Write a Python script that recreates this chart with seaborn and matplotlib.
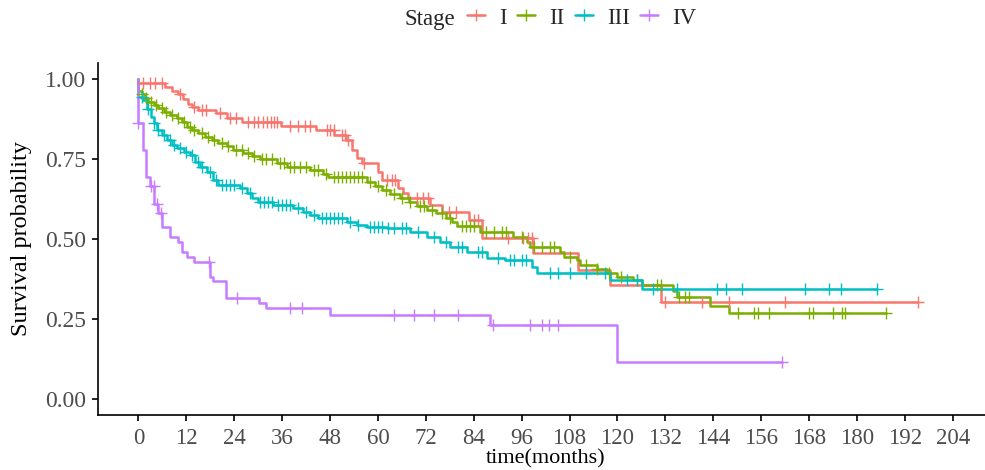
import numpy as np
import pandas as pd
import matplotlib
matplotlib.use("Agg")
import matplotlib.pyplot as plt
from matplotlib.lines import Line2D
import seaborn as sns

# Kaplan-Meier estimates by stage: event times (months) and survival after each step
stages = ["I", "II", "III", "IV"]
colors = ["#F8766D", "#7CAE00", "#00BFC4", "#C77CFF"]

stage1_times = [0, 6.7, 8.4, 9.8, 11.1, 12.5, 13.4, 14.8, 19.5, 22.1, 25.9, 35.8, 44.5,
                49.0, 52.0, 53.5, 54.7, 56.0, 60.1, 61.0, 65.0, 66.2, 67.5, 73.1, 76.0,
                82.9, 86.0, 98.8, 110.2, 118.2, 130.9]
stage1_surv = [0.988, 0.976, 0.963, 0.952, 0.936, 0.922, 0.913, 0.903, 0.893, 0.877, 0.866,
               0.853, 0.840, 0.825, 0.810, 0.778, 0.752, 0.736, 0.710, 0.684, 0.660, 0.643,
               0.627, 0.606, 0.585, 0.559, 0.502, 0.455, 0.403, 0.356, 0.304]
stage1_censor = [1.1, 2.9, 4.2, 5.9, 10.5, 13.8, 16.0, 17.0, 20.5, 23.0, 24.5, 27.5, 29.0,
                 30.0, 31.3, 32.2, 33.1, 34.0, 34.7, 38.0, 40.1, 41.8, 43.0, 47.2, 48.0,
                 48.9, 51.0, 51.8, 52.4, 56.5, 62.2, 63.5, 64.3, 69.7, 71.4, 72.6, 77.7,
                 79.5, 84.0, 85.0, 92.7, 96.4, 97.7, 98.5, 131.9, 141.1, 148.0, 162.0, 195.4]

stage2_times = [0, 0.85, 1.7, 2.5, 3.8, 5.0, 6.3, 7.9, 9.6, 10.9, 12.1, 13.4, 15.0, 16.7,
                18.4, 20.0, 22.1, 23.8, 26.3, 28.4, 30.5, 34.7, 37.2, 43.0, 46.3, 47.6,
                57.2, 59.3, 61.0, 63.0, 65.6, 67.7, 69.7, 72.2, 74.5, 77.0, 78.5, 79.8,
                85.6, 93.9, 97.3, 98.1, 105.6, 106.5, 109.8, 110.6, 114.8, 117.3, 119.8,
                124.0, 126.1, 134.0, 134.9, 143.2, 148.0]
stage2_surv = [0.963, 0.953, 0.940, 0.929, 0.919, 0.908, 0.898, 0.888, 0.877, 0.867, 0.851,
               0.841, 0.830, 0.820, 0.809, 0.799, 0.790, 0.778, 0.768, 0.759, 0.749, 0.736,
               0.726, 0.716, 0.703, 0.693, 0.679, 0.666, 0.653, 0.641, 0.627, 0.617, 0.603,
               0.592, 0.580, 0.566, 0.554, 0.540, 0.523, 0.507, 0.492, 0.476, 0.460, 0.445,
               0.434, 0.419, 0.405, 0.393, 0.382, 0.372, 0.356, 0.336, 0.320, 0.290, 0.268]
stage2_censor = [1.0, 2.0, 3.2, 4.5, 6.0, 7.0, 8.5, 10.0, 11.5, 13.0, 14.0, 16.0, 17.5,
                 19.0, 21.0, 22.5, 24.5, 26.0, 27.5, 29.0, 31.0, 32.0, 33.5, 35.5, 36.5,
                 38.0, 39.0, 40.5, 42.0, 44.0, 45.0, 47.0, 49.0, 50.0, 51.0, 52.0, 53.0,
                 54.0, 55.0, 56.0, 58.0, 60.0, 62.0, 64.0, 66.0, 68.0, 70.5, 71.5, 73.5,
                 76.0, 78.0, 81.0, 82.0, 83.0, 84.0, 87.0, 89.0, 91.0, 92.0, 96.0, 99.0,
                 101.0, 103.0, 104.0, 108.0, 112.0, 115.0, 118.0, 121.0, 125.0, 130.0,
                 131.0, 135.3, 137.0, 137.8, 150.1, 154.2, 155.1, 158.0, 168.1, 169.1,
                 174.1, 176.2, 176.9, 187.2]

stage3_times = [0, 1.2, 2.1, 3.1, 3.8, 4.6, 5.9, 7.1, 8.4, 9.6, 11.3, 13.0, 14.2, 15.5,
                17.1, 18.8, 20.0, 25.5, 27.2, 28.4, 30.0, 33.8, 38.8, 41.3, 43.0, 45.1,
                52.2, 54.7, 57.2, 62.2, 68.1, 72.2, 75.6, 78.1, 82.3, 87.3, 91.9, 98.5,
                99.8, 118.2, 126.1]
stage3_surv = [0.945, 0.934, 0.905, 0.882, 0.861, 0.841, 0.825, 0.809, 0.794, 0.783, 0.773,
               0.762, 0.742, 0.726, 0.710, 0.684, 0.669, 0.658, 0.645, 0.627, 0.617, 0.606,
               0.596, 0.585, 0.575, 0.565, 0.554, 0.544, 0.539, 0.533, 0.523, 0.507, 0.492,
               0.476, 0.460, 0.440, 0.434, 0.413, 0.395, 0.372, 0.343]
stage3_censor = [1.0, 2.5, 4.0, 5.0, 6.5, 8.0, 9.0, 10.5, 12.0, 13.5, 15.0, 16.0, 18.0,
                 19.5, 21.0, 22.0, 23.0, 24.0, 26.0, 28.0, 30.5, 31.5, 32.5, 33.5, 35.0,
                 36.0, 37.0, 38.0, 40.0, 42.0, 44.0, 46.0, 47.0, 48.0, 49.0, 50.0, 51.0,
                 53.0, 55.0, 58.0, 59.0, 60.0, 61.0, 62.5, 64.0, 66.0, 67.0, 70.0, 74.0,
                 77.0, 80.0, 81.0, 85.0, 86.0, 90.0, 93.0, 94.0, 96.0, 97.0, 103.0, 105.0,
                 108.0, 112.0, 116.9, 122.3, 124.8, 129.0, 134.9, 145.0, 147.1, 151.2,
                 167.0, 173.1, 176.0, 185.0]

stage4_times = [0, 1.1, 1.9, 2.8, 3.9, 4.8, 5.9, 7.9, 10.0, 10.9, 12.1, 14.0, 18.0, 18.8,
                22.0, 30.1, 32.0, 48.0, 88.1, 120.0]
stage4_surv = [0.862, 0.778, 0.695, 0.666, 0.610, 0.580, 0.537, 0.507, 0.490, 0.460, 0.443,
               0.429, 0.382, 0.369, 0.317, 0.299, 0.284, 0.262, 0.231, 0.116]
stage4_censor = [0.0, 3.1, 3.8, 4.7, 5.7, 17.8, 24.8, 38.0, 40.9, 64.0, 69.1, 74.1, 80.0,
                 88.9, 98.1, 101.0, 102.9, 105.0, 161.2]

all_times = [stage1_times, stage2_times, stage3_times, stage4_times]
all_surv = [stage1_surv, stage2_surv, stage3_surv, stage4_surv]
all_censor = [stage1_censor, stage2_censor, stage3_censor, stage4_censor]

# Build step-curve and censor-mark tables
curve_rows, censor_rows = [], []
for st, t, s, c in zip(stages, all_times, all_surv, all_censor):
    t = np.asarray(t, float)
    s = np.asarray(s, float)
    c = np.asarray(c, float)
    xs = np.concatenate([[0.0], t, [max(c.max(), t.max())]])
    ys = np.concatenate([[1.0], s, [s[-1]]])
    curve_rows.append(pd.DataFrame({"time": xs, "surv": ys, "Stage": st}))
    idx = np.searchsorted(t, c, side="right") - 1
    censor_rows.append(pd.DataFrame({"time": c, "surv": s[idx], "Stage": st}))
curves = pd.concat(curve_rows, ignore_index=True)
censors = pd.concat(censor_rows, ignore_index=True)

palette = dict(zip(stages, colors))

sns.set_style("white")
plt.rcParams["font.family"] = ["Liberation Serif", "DejaVu Serif"]

W, H = 985, 470
fig = plt.figure(figsize=(W / 100, H / 100), dpi=100)
x0, x1 = -10.2, 214.2
y0, y1 = -0.05, 1.05
left_px, bottom_px = 97.7, 415.0
px_per_month, px_per_unit = 3.992, 320.0
ax_w = (x1 - x0) * px_per_month
ax_h = (y1 - y0) * px_per_unit
ax = fig.add_axes([left_px / W, (H - bottom_px) / H, ax_w / W, ax_h / H])

sns.lineplot(data=curves, x="time", y="surv", hue="Stage", palette=palette,
             hue_order=stages, estimator=None, sort=False, drawstyle="steps-post",
             linewidth=1.8, legend=False, ax=ax)
for st in stages:
    sub = censors[censors["Stage"] == st]
    ax.plot(sub["time"], sub["surv"], linestyle="none", marker="+",
            markersize=8, markeredgewidth=1.0, color=palette[st])

ax.set_xlim(x0, x1)
ax.set_ylim(y0, y1)
ax.set_xticks(np.arange(0, 205, 12))
ax.set_yticks([0, 0.25, 0.5, 0.75, 1.0])
ax.set_yticklabels(["0.00", "0.25", "0.50", "0.75", "1.00"])
for sp in ["top", "right"]:
    ax.spines[sp].set_visible(False)
for sp in ["left", "bottom"]:
    ax.spines[sp].set_color("black")
    ax.spines[sp].set_linewidth(1.2)
ax.tick_params(axis="both", which="major", length=4.5, width=1.2, color="black",
               labelcolor="#4d4d4d", left=True, bottom=True)
ax.tick_params(axis="x", labelsize=16.5, pad=5)
ax.tick_params(axis="y", labelsize=17, pad=4)
ax.set_xlabel("time(months)", fontsize=16, color="black", labelpad=0)
ax.set_ylabel("Survival probability", fontsize=17.5, color="black", labelpad=9)
ax.grid(False)

# Horizontal legend at the top with the title on the left
fig.text(405 / W, 1 - 19 / H, "Stage", fontsize=16.5, ha="left", va="center")
handles = [Line2D([0], [0], color=c, lw=1.8, marker="+", markersize=8,
                  markeredgewidth=1.0) for c in colors]
fig.legend(handles, stages, loc="center left", bbox_to_anchor=(467 / W, 1 - 18 / H),
           ncol=4, frameon=False, fontsize=16.5, handlelength=0.8, handletextpad=0.6,
           columnspacing=0.45, borderaxespad=0, borderpad=0)

fig.savefig("out.png", dpi=100)
